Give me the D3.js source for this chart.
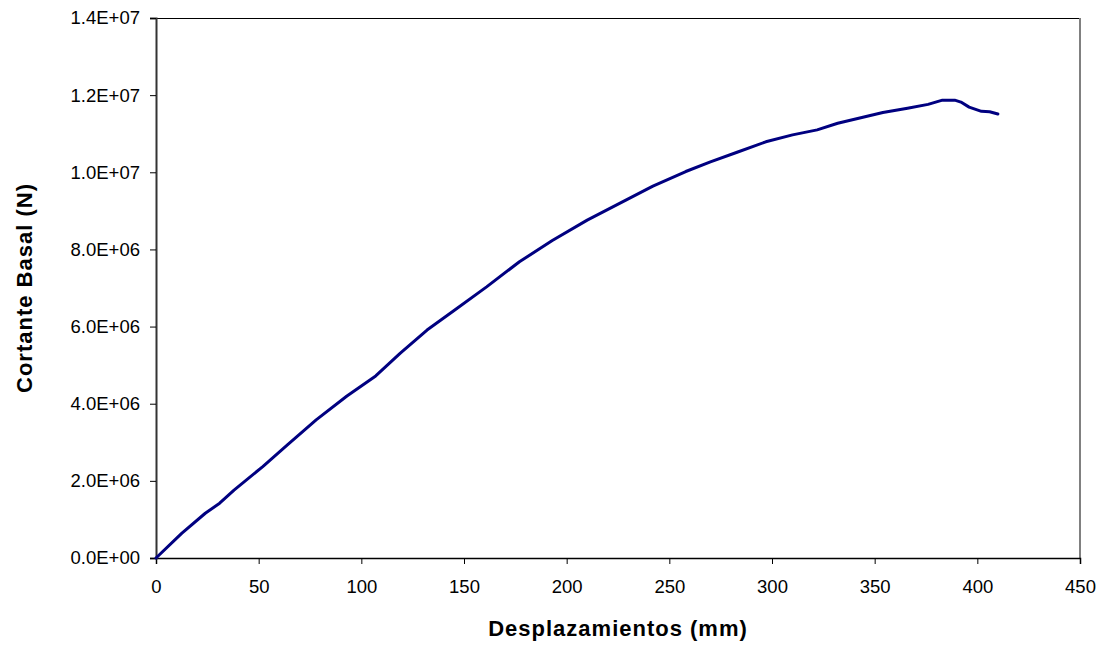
<!DOCTYPE html>
<html>
<head>
<meta charset="utf-8">
<script src="https://cdn.jsdelivr.net/npm/d3@7"></script>
<style>
  html, body { margin: 0; padding: 0; background: #fff; }
  svg { display: block; }
  text { font-family: "Liberation Sans", Arial, sans-serif; fill: #000; }
</style>
</head>
<body>
<svg id="chart" width="1104" height="646"></svg>
<script>
// Pushover curve: base shear vs. roof displacement
const desplazamientos = [0, 12.5, 24, 31, 38, 52, 64, 78, 93, 107, 119, 132, 145, 161, 177, 193, 210, 226, 242, 258, 270, 283, 297, 310, 322, 332, 354, 366, 376, 383, 389, 392, 396, 402, 406, 410];
const cortante = [0, 0.64e6, 1.16e6, 1.42e6, 1.76e6, 2.37e6, 2.93e6, 3.58e6, 4.2e6, 4.72e6, 5.31e6, 5.91e6, 6.41e6, 7.03e6, 7.68e6, 8.23e6, 8.76e6, 9.2e6, 9.64e6, 10.02e6, 10.27e6, 10.52e6, 10.79e6, 10.97e6, 11.10e6, 11.27e6, 11.55e6, 11.66e6, 11.76e6, 11.87e6, 11.87e6, 11.82e6, 11.69e6, 11.58e6, 11.57e6, 11.51e6];

const xTicks = [0, 50, 100, 150, 200, 250, 300, 350, 400, 450];
const yTicks = [0, 2e6, 4e6, 6e6, 8e6, 10e6, 12e6, 14e6];
const xTitle = "Desplazamientos (mm)";
const yTitle = "Cortante Basal (N)";

const svg = d3.select("#chart");
const plotLeft = 156, plotRight = 1080, plotTop = 18, plotBottom = 558;

const x = d3.scaleLinear().domain([0, 450]).range([plotLeft, plotRight]);
const y = d3.scaleLinear().domain([0, 1.4e7]).range([plotBottom, plotTop]);

// Excel-style scientific tick format, e.g. 1.2E+07
const sci = v => {
  if (v === 0) return "0.0E+00";
  const e = Math.floor(Math.log10(Math.abs(v)));
  const m = v / Math.pow(10, e);
  return m.toFixed(1) + "E" + (e >= 0 ? "+" : "-") + String(Math.abs(e)).padStart(2, "0");
};

// plot frame: top and right edges
svg.append("line").attr("x1", plotLeft).attr("x2", plotRight).attr("y1", plotTop + 0.5).attr("y2", plotTop + 0.5)
  .attr("stroke", "#000").attr("stroke-width", 1);
svg.append("line").attr("x1", plotRight).attr("x2", plotRight).attr("y1", plotTop).attr("y2", plotBottom)
  .attr("stroke", "#808080").attr("stroke-width", 2);

// x axis
const xAxis = svg.append("g").attr("transform", `translate(0,${plotBottom})`)
  .call(d3.axisBottom(x).tickValues(xTicks).tickFormat(d3.format("d")).tickSize(6).tickPadding(16));
xAxis.select(".domain").attr("stroke", "#000").attr("stroke-width", 1.5);
xAxis.selectAll(".tick line").attr("stroke", "#000");
xAxis.selectAll(".tick text").attr("font-size", 18.5)
  .attr("font-family", "Liberation Sans, Arial, sans-serif").attr("fill", "#000");

// y axis
const yAxis = svg.append("g").attr("transform", `translate(${plotLeft},0)`)
  .call(d3.axisLeft(y).tickValues(yTicks).tickFormat(sci).tickSize(6).tickPadding(10));
yAxis.select(".domain").attr("stroke", "#333").attr("stroke-width", 2);
yAxis.selectAll(".tick line").attr("stroke", "#000");
yAxis.selectAll(".tick text").attr("font-size", 18.5)
  .attr("font-family", "Liberation Sans, Arial, sans-serif").attr("fill", "#000");

// curve
const pts = desplazamientos.map((d, i) => [d, cortante[i]]);
svg.append("path")
  .datum(pts)
  .attr("fill", "none")
  .attr("stroke", "#000080")
  .attr("stroke-width", 3)
  .attr("stroke-linejoin", "round")
  .attr("stroke-linecap", "round")
  .attr("d", d3.line().x(d => x(d[0])).y(d => y(d[1])));

// axis titles
svg.append("text")
  .attr("x", (plotLeft + plotRight) / 2).attr("y", 636)
  .attr("text-anchor", "middle")
  .attr("font-size", 22).attr("font-weight", "bold").attr("letter-spacing", 1)
  .text(xTitle);

svg.append("text")
  .attr("transform", `translate(32,${(plotTop + plotBottom) / 2}) rotate(-90)`)
  .attr("text-anchor", "middle")
  .attr("font-size", 22).attr("font-weight", "bold").attr("letter-spacing", 1)
  .text(yTitle);
</script>
</body>
</html>
